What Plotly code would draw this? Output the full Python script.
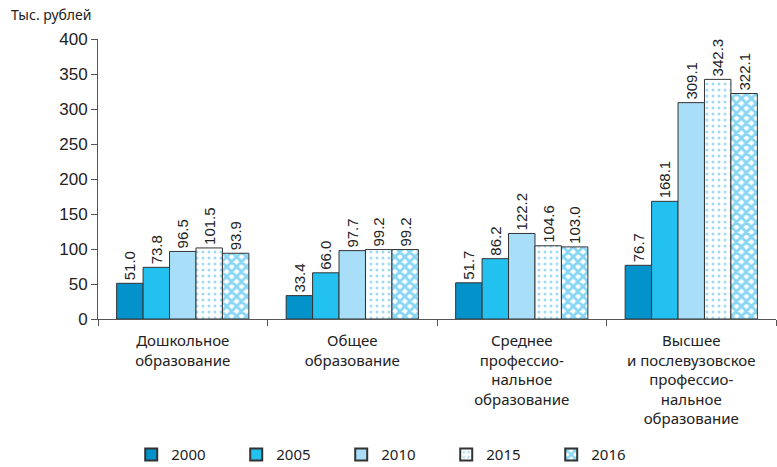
import plotly.graph_objects as go

categories = [
    "Дошкольное<br>образование",
    "Общее<br>образование",
    "Среднее<br>профессио-<br>нальное<br>образование",
    "Высшее<br>и послевузовское<br>профессио-<br>нальное<br>образование",
]
years = ["2000", "2005", "2010", "2015", "2016"]
v2000 = [51.0, 33.4, 51.7, 76.7]
v2005 = [73.8, 66.0, 86.2, 168.1]
v2010 = [96.5, 97.7, 122.2, 309.1]
v2015 = [101.5, 99.2, 104.6, 342.3]
v2016 = [93.9, 99.2, 103.0, 322.1]
series = [v2000, v2005, v2010, v2015, v2016]
y_ticks = [0, 50, 100, 150, 200, 250, 300, 350, 400]

fills = ["#0392c9", "#22c1ef", "#a8def7", "#ffffff", "#ffffff"]
patterns = [
    dict(shape=""),
    dict(shape=""),
    dict(shape=""),
    dict(shape=".", fgcolor="#3fb6e6", bgcolor="#ffffff", size=6, solidity=0.2, fillmode="overlay"),
    dict(shape="x", fgcolor="#12aee9", bgcolor="#ffffff", size=7, solidity=0.65, fillmode="overlay"),
]

fig = go.Figure()
for name, vals, col, pat in zip(years, series, fills, patterns):
    fig.add_trace(go.Bar(
        name=name,
        x=categories,
        y=vals,
        marker=dict(color=col, line=dict(color="#333333", width=1), pattern=pat),
        text=[f"{v:.1f}" for v in vals],
        textposition="outside",
        textangle=-90,
        constraintext="none",
        textfont=dict(family="Liberation Sans Narrow, Arial Narrow, sans-serif", size=15, color="#222222"),
        cliponaxis=False,
    ))

fig.update_layout(
    width=777,
    height=467,
    margin=dict(l=98, r=1, t=39, b=148, autoexpand=False),
    paper_bgcolor="white",
    plot_bgcolor="white",
    barmode="group",
    bargap=0.22,
    bargroupgap=0,
    uniformtext=dict(minsize=15, mode="show"),
    showlegend=True,
    legend=dict(
        orientation="h",
        x=0.049,
        xanchor="left",
        y=-0.485,
        yanchor="middle",
        entrywidth=60,
        entrywidthmode="pixels",
        font=dict(family="Noto Sans, sans-serif", size=15, color="#222222"),
        itemsizing="constant",
    ),
    xaxis=dict(
        type="category",
        automargin=False,
        showline=True,
        linecolor="#555555",
        linewidth=1,
        ticks="outside",
        tickson="boundaries",
        ticklen=6,
        tickcolor="#555555",
        ticklabelstandoff=8,
        tickfont=dict(family="Noto Sans, sans-serif", size=15, color="#222222"),
        showgrid=False,
    ),
    yaxis=dict(
        range=[0, 400],
        automargin=False,
        tickvals=y_ticks,
        showline=True,
        linecolor="#555555",
        linewidth=1,
        ticks="outside",
        ticklen=6,
        tickcolor="#555555",
        tickfont=dict(family="Liberation Sans Narrow, Arial Narrow, sans-serif", size=17, color="#222222"),
        showgrid=False,
        zeroline=False,
    ),
    annotations=[
        dict(
            text="Тыс. рублей",
            xref="paper", yref="paper",
            x=-0.132, y=1.089,
            xanchor="left", yanchor="middle",
            showarrow=False,
            font=dict(family="Noto Sans, sans-serif", size=14, color="#222222"),
        )
    ],
)

fig.write_html(
    "out.html",
    config={"displayModeBar": False},
    post_script="document.body.style.margin='0';document.body.style.overflow='hidden';",
)
